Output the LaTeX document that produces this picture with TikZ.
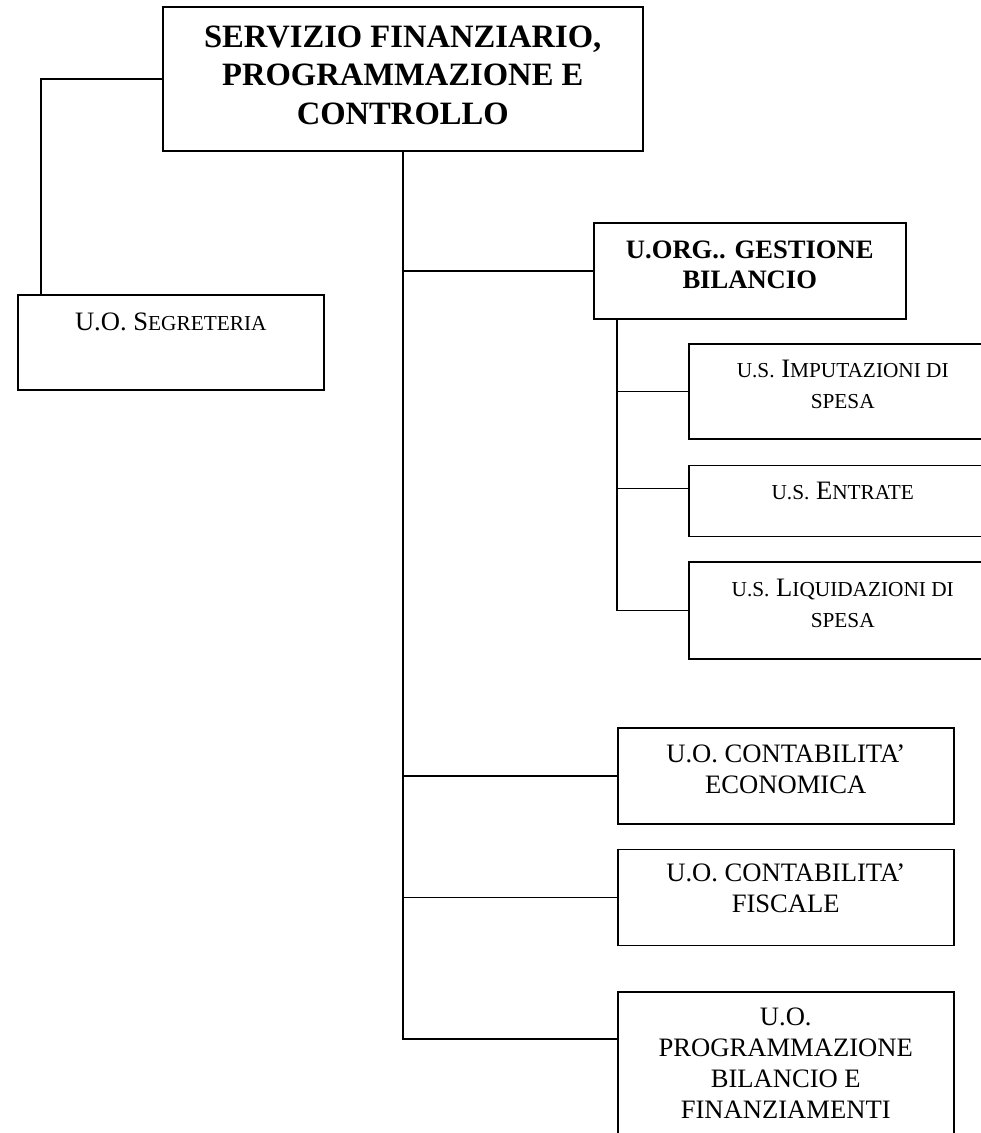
\documentclass[tikz,border=0pt]{standalone}
\usepackage{fontspec}
\setmainfont{Liberation Serif}
\usetikzlibrary{positioning}

% small capitals, faked by size
\newcommand{\smc}[1]{{\fontsize{21.3}{31}\selectfont #1}}

\tikzset{
    unit/.style={draw, line width=1.5pt, inner sep=0pt, anchor=north west},
    utext/.style={anchor=base, align=center, font=\fontsize{26.6}{31}\selectfont},
    link/.style={line width=1.5pt}
}

\begin{document}
\begin{tikzpicture}[x=1pt, y=-1pt]
    \useasboundingbox (0,0) rectangle (981,1133);
    \clip (0,0) rectangle (981,1133);

    % Boxes
    \node[unit, minimum width=480pt, minimum height=144pt] (tit) at (162,6) {};
    \node[unit, minimum width=306pt, minimum height=95pt] (seg) at (17,294) {};
    \node[unit, minimum width=312pt, minimum height=96pt] (ges) at (593,222) {};
    \node[unit, minimum width=308pt, minimum height=95pt] (imp) at (688,343) {};
    \node[unit, minimum width=308pt, minimum height=71pt, below=25pt of imp] (ent) {};
    \node[unit, minimum width=308pt, minimum height=97pt, below=24pt of ent] (liq) {};
    \node[unit, minimum width=336pt, minimum height=96pt] (eco) at (617,727) {};
    \node[unit, minimum width=336pt, minimum height=96pt, below=24pt of eco] (fis) {};
    \node[unit, minimum width=336pt, minimum height=170pt] (prog) at (617,991) {};

    % Texts (base = baseline of the last line)
    \node[utext, font=\bfseries\fontsize{32.6}{38.5}\selectfont] (tit-t) at ([yshift=-118pt]tit.north)
        {SERVIZIO FINANZIARIO,\\PROGRAMMAZIONE E\\CONTROLLO};
    \node[utext] (seg-t) at ([yshift=-36pt]seg.north) {U.O. S\smc{EGRETERIA}};
    \node[utext, font=\bfseries\fontsize{26.6}{30}\selectfont] (ges-t) at ([yshift=-66pt]ges.north)
        {U.ORG.. GESTIONE\\BILANCIO};
    \node[utext] (imp-t) at ([yshift=-65pt]imp.north) {\smc{U.S.} I\smc{MPUTAZIONI DI}\\\smc{SPESA}};
    \node[utext] (ent-t) at ([yshift=-35pt]ent.north) {\smc{U.S.} E\smc{NTRATE}};
    \node[utext] (liq-t) at ([yshift=-66pt]liq.north) {\smc{U.S.} L\smc{IQUIDAZIONI DI}\\\smc{SPESA}};
    \node[utext] (eco-t) at ([yshift=-66pt]eco.north) {U.O. CONTABILITA’\\ECONOMICA};
    \node[utext] (fis-t) at ([yshift=-64pt]fis.north) {U.O. CONTABILITA’\\FISCALE};
    \node[utext] (prog-t) at ([yshift=-127pt]prog.north)
        {U.O.\\PROGRAMMAZIONE\\BILANCIO E\\FINANZIAMENTI};

    % Connectors
    \coordinate (gs) at ([xshift=24pt]ges.south west);
    \coordinate (ent-in) at ([yshift=-24pt]ent.north west);
    \coordinate (prog-in) at ([yshift=-48pt]prog.north west);
    \draw[link] (tit.west) -| ([xshift=24pt]seg.north west);
    \draw[link] (tit.south) |- (prog-in);
    \draw[link] (tit.south |- ges.west) -- (ges.west);
    \draw[link] (tit.south |- eco.west) -- (eco.west);
    \draw[link] (tit.south |- fis.west) -- (fis.west);
    \draw[link] (gs) |- (liq.west);
    \draw[link] (gs |- imp.west) -- (imp.west);
    \draw[link] (gs |- ent-in) -- (ent-in);
\end{tikzpicture}
\end{document}
